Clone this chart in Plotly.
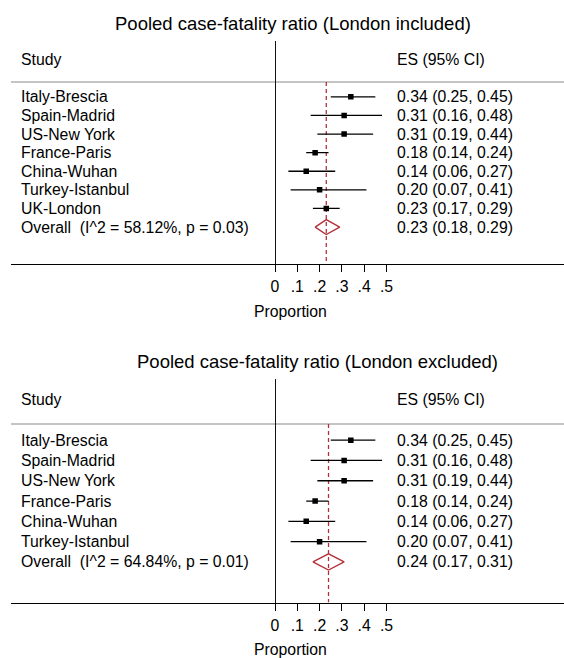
import plotly.graph_objects as go

# ---- data -------------------------------------------------------------
studies_incl = ["Italy-Brescia", "Spain-Madrid", "US-New York", "France-Paris",
                "China-Wuhan", "Turkey-Istanbul", "UK-London"]
es_incl = [0.34, 0.31, 0.31, 0.18, 0.14, 0.20, 0.23]
lo_incl = [0.25, 0.16, 0.19, 0.14, 0.06, 0.07, 0.17]
hi_incl = [0.45, 0.48, 0.44, 0.24, 0.27, 0.41, 0.29]
pooled_incl = [0.23, 0.18, 0.29]          # estimate, lower, upper
het_incl = ["58.12%", "0.03"]              # I^2, p

studies_excl = ["Italy-Brescia", "Spain-Madrid", "US-New York", "France-Paris",
                "China-Wuhan", "Turkey-Istanbul"]
es_excl = [0.34, 0.31, 0.31, 0.18, 0.14, 0.20]
lo_excl = [0.25, 0.16, 0.19, 0.14, 0.06, 0.07]
hi_excl = [0.45, 0.48, 0.44, 0.24, 0.27, 0.41]
pooled_excl = [0.24, 0.17, 0.31]
het_excl = ["64.84%", "0.01"]

titles = ["Pooled case-fatality ratio (London included)",
          "Pooled case-fatality ratio (London excluded)"]
tick_vals = [0, 0.1, 0.2, 0.3, 0.4, 0.5]
tick_text = ["0", ".1", ".2", ".3", ".4", ".5"]
x_title = "Proportion"

# ---- styling / geometry ------------------------------------------------
W, H = 564, 658
FONT = "Liberation Sans, Arial, Helvetica, sans-serif"
BODY = 15.8
RED = "#b3303a"
X0_PX, PX_PER_UNIT = 275.0, 223.0           # where 0 sits and scale of the x axis
AX_LEFT_PX = 11.0
x_range = [(AX_LEFT_PX - X0_PX) / PX_PER_UNIT, (W - X0_PX) / PX_PER_UNIT]

panels = [
    dict(studies=studies_incl, es=es_incl, lo=lo_incl, hi=hi_incl,
         pooled=pooled_incl, het=het_incl, title=titles[0],
         top_px=41.0, bottom_px=264.3, title_x_px=112.5, title_y_px=23.3,
         xlab_y_px=311.5, xa="x", ya="y"),
    dict(studies=studies_excl, es=es_excl, lo=lo_excl, hi=hi_excl,
         pooled=pooled_excl, het=het_excl, title=titles[1],
         top_px=379.3, bottom_px=602.5, title_x_px=135.0, title_y_px=361.2,
         xlab_y_px=649.5, xa="x2", ya="y2"),
]

EST_X = 394.5 / W
LAB_X = 19.0 / W

fig = go.Figure()
annotations = []
shapes = []

for i, p in enumerate(panels):
    n = len(p["studies"])
    rows = list(range(1, n + 1))
    overall_row = n + 1
    axis_row = n + 3
    gray_row = 0.2

    # confidence-interval whiskers
    xs, ys = [], []
    for r, a, b in zip(rows, p["lo"], p["hi"]):
        xs += [a, b, None]
        ys += [r, r, None]
    fig.add_trace(go.Scatter(x=xs, y=ys, mode="lines",
                             line=dict(color="black", width=1.3),
                             xaxis=p["xa"], yaxis=p["ya"], hoverinfo="skip",
                             showlegend=False))
    # point estimates
    fig.add_trace(go.Scatter(x=p["es"], y=rows, mode="markers",
                             marker=dict(symbol="square", size=5.5, color="black",
                                         line=dict(width=0)),
                             xaxis=p["xa"], yaxis=p["ya"], showlegend=False))
    # pooled diamond
    est, plo, phi = p["pooled"]
    half = 0.4
    fig.add_trace(go.Scatter(x=[plo, est, phi, est, plo],
                             y=[overall_row, overall_row - half, overall_row,
                                overall_row + half, overall_row],
                             mode="lines", line=dict(color=RED, width=1.4),
                             xaxis=p["xa"], yaxis=p["ya"], showlegend=False))

    # dashed line at the pooled estimate
    shapes.append(dict(type="line", xref=p["xa"], yref=p["ya"],
                       x0=est, x1=est, y0=gray_row, y1=axis_row,
                       line=dict(color=RED, width=1.3, dash="4px,3px"),
                       layer="below"))
    # header separator
    shapes.append(dict(type="line", xref=f"{p['xa']} domain", yref=p["ya"],
                       x0=0, x1=1, y0=gray_row, y1=gray_row,
                       line=dict(color="#c4c4c4", width=2), layer="below"))

    # axes
    dom = [1 - p["bottom_px"] / H, 1 - p["top_px"] / H]
    xkey = "xaxis" if i == 0 else "xaxis2"
    ykey = "yaxis" if i == 0 else "yaxis2"
    fig.layout[xkey] = dict(domain=[AX_LEFT_PX / W, 1], range=x_range,
                            anchor=p["ya"], showgrid=False,
                            zeroline=True, zerolinecolor="#111", zerolinewidth=1.3,
                            showline=True, linecolor="black", linewidth=1.3,
                            ticks="outside", ticklen=7, tickwidth=1.3,
                            tickcolor="black", tickvals=tick_vals,
                            ticktext=tick_text, ticklabelstandoff=1,
                            tickfont=dict(family=FONT, size=BODY, color="black"),
                            fixedrange=True, automargin=False)
    fig.layout[ykey] = dict(domain=dom, range=[axis_row, -2], anchor=p["xa"],
                            visible=False, fixedrange=True)

    # text columns
    yref = p["ya"]
    annotations.append(dict(text="Study", x=LAB_X, y=-1, xref="paper", yref=yref,
                            xanchor="left", yanchor="middle", showarrow=False))
    annotations.append(dict(text="ES (95% CI)", x=EST_X, y=-1, xref="paper",
                            yref=yref, xanchor="left", yanchor="middle",
                            showarrow=False))
    for r, s, e, a, b in zip(rows, p["studies"], p["es"], p["lo"], p["hi"]):
        annotations.append(dict(text=s, x=LAB_X, y=r, xref="paper", yref=yref,
                                xanchor="left", yanchor="middle", showarrow=False))
        annotations.append(dict(text=f"{e:.2f} ({a:.2f}, {b:.2f})", x=EST_X, y=r,
                                xref="paper", yref=yref, xanchor="left",
                                yanchor="middle", showarrow=False))
    annotations.append(dict(
        text=f"Overall\u00a0 (I^2 = {p['het'][0]}, p = {p['het'][1]})",
        x=LAB_X, y=overall_row, xref="paper", yref=yref,
        xanchor="left", yanchor="middle", showarrow=False))
    annotations.append(dict(text=f"{est:.2f} ({plo:.2f}, {phi:.2f})", x=EST_X,
                            y=overall_row, xref="paper", yref=yref,
                            xanchor="left", yanchor="middle", showarrow=False))

    # panel title and x-axis label
    annotations.append(dict(text=p["title"], x=p["title_x_px"] / W,
                            y=1 - p["title_y_px"] / H, xref="paper", yref="paper",
                            xanchor="left", yanchor="middle", showarrow=False,
                            font=dict(family=FONT, size=18.5, color="black")))
    annotations.append(dict(text=x_title, x=290.5 / W, y=1 - p["xlab_y_px"] / H,
                            xref="paper", yref="paper", xanchor="center",
                            yanchor="middle", showarrow=False))

fig.update_layout(
    width=W, height=H, autosize=False,
    margin=dict(l=0, r=0, t=0, b=0, pad=0),
    paper_bgcolor="white", plot_bgcolor="white",
    font=dict(family=FONT, size=BODY, color="black"),
    annotations=annotations, shapes=shapes, showlegend=False,
)

fig.write_html("out.html", config={"displayModeBar": False})
